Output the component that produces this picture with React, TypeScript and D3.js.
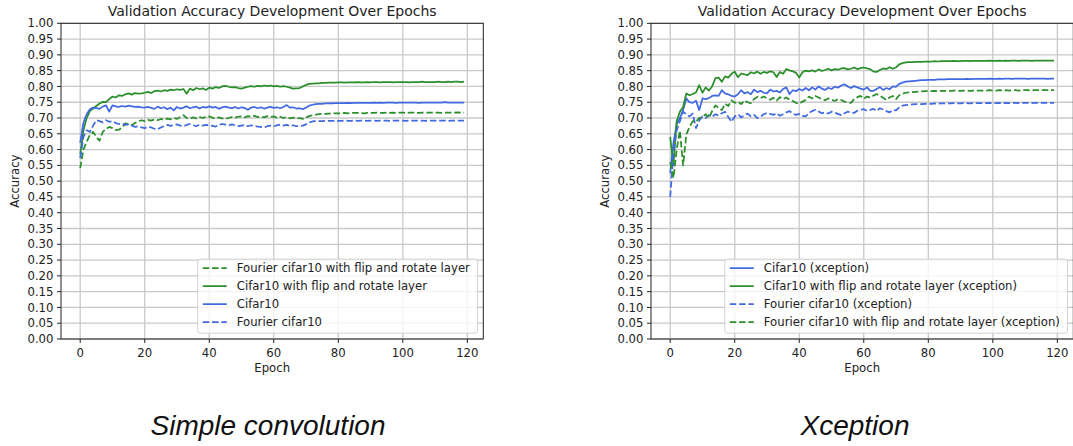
import React, { useEffect, useRef } from "react";
import * as d3 from "d3";

// ---------- data ----------
const yTicks = [0, 0.05, 0.1, 0.15, 0.2, 0.25, 0.3, 0.35, 0.4, 0.45, 0.5, 0.55, 0.6, 0.65, 0.7, 0.75, 0.8, 0.85, 0.9, 0.95, 1.0];
const xTicks = [0, 20, 40, 60, 80, 100, 120];

const simpleCifar10 = [
  0.621, 0.685, 0.712, 0.728, 0.733, 0.731, 0.729, 0.736, 0.740, 0.720,
  0.740, 0.737, 0.735, 0.738, 0.736, 0.739, 0.737, 0.735, 0.736, 0.734,
  0.733, 0.735, 0.732, 0.729, 0.736, 0.731, 0.734, 0.728, 0.733, 0.724,
  0.735, 0.730, 0.733, 0.737, 0.731, 0.734, 0.736, 0.730, 0.735, 0.733,
  0.737, 0.733, 0.735, 0.729, 0.734, 0.736, 0.733, 0.731, 0.735, 0.730,
  0.734, 0.732, 0.726, 0.733, 0.735, 0.731, 0.734, 0.730, 0.733, 0.735,
  0.732, 0.734, 0.731, 0.735, 0.741, 0.733, 0.734, 0.730, 0.731, 0.728,
  0.733, 0.739, 0.742, 0.744, 0.745, 0.745, 0.746, 0.746, 0.746, 0.747,
  0.747, 0.747, 0.747, 0.748, 0.747, 0.748, 0.748, 0.748, 0.748, 0.748,
  0.748, 0.749, 0.748, 0.749, 0.748, 0.749, 0.749, 0.749, 0.748, 0.749,
  0.749, 0.749, 0.749, 0.749, 0.749, 0.748, 0.749, 0.749, 0.749, 0.749,
  0.749, 0.749, 0.749, 0.750, 0.749, 0.749, 0.749, 0.749, 0.749, 0.749,
];

const simpleCifar10Flip = [
  0.585, 0.660, 0.700, 0.722, 0.730, 0.738, 0.746, 0.751, 0.750, 0.760,
  0.768, 0.765, 0.772, 0.770, 0.775, 0.778, 0.774, 0.779, 0.777, 0.778,
  0.780, 0.783, 0.779, 0.785, 0.787, 0.784, 0.788, 0.786, 0.790, 0.788,
  0.791, 0.789, 0.792, 0.777, 0.793, 0.788, 0.795, 0.791, 0.794, 0.789,
  0.796, 0.793, 0.798, 0.795, 0.800, 0.802, 0.799, 0.797, 0.798, 0.795,
  0.793, 0.796, 0.799, 0.801, 0.799, 0.802, 0.800, 0.803, 0.801, 0.803,
  0.800, 0.802, 0.799, 0.801, 0.799, 0.796, 0.793, 0.794, 0.795, 0.800,
  0.805, 0.808, 0.809, 0.810, 0.810, 0.811, 0.811, 0.812, 0.812, 0.812,
  0.813, 0.813, 0.812, 0.813, 0.813, 0.813, 0.814, 0.813, 0.813, 0.814,
  0.813, 0.814, 0.814, 0.813, 0.814, 0.814, 0.814, 0.813, 0.814, 0.814,
  0.814, 0.814, 0.813, 0.814, 0.814, 0.814, 0.815, 0.814, 0.814, 0.814,
  0.814, 0.815, 0.814, 0.814, 0.815, 0.814, 0.815, 0.815, 0.814, 0.815,
];

const simpleFourierFlip = [
  0.541, 0.600, 0.625, 0.646, 0.656, 0.640, 0.628, 0.656, 0.665, 0.672,
  0.668, 0.662, 0.663, 0.670, 0.683, 0.680, 0.678, 0.684, 0.690, 0.693,
  0.690, 0.694, 0.692, 0.695, 0.693, 0.697, 0.694, 0.698, 0.696, 0.700,
  0.697, 0.703, 0.709, 0.700, 0.698, 0.702, 0.699, 0.703, 0.700, 0.704,
  0.705, 0.701, 0.698, 0.702, 0.699, 0.697, 0.700, 0.703, 0.701, 0.704,
  0.705, 0.702, 0.706, 0.704, 0.707, 0.703, 0.705, 0.702, 0.706, 0.703,
  0.705, 0.701, 0.704, 0.700, 0.703, 0.699, 0.701, 0.698, 0.700, 0.697,
  0.702, 0.706, 0.709, 0.711, 0.712, 0.713, 0.713, 0.714, 0.714, 0.715,
  0.715, 0.715, 0.716, 0.715, 0.716, 0.716, 0.716, 0.716, 0.715, 0.716,
  0.716, 0.716, 0.717, 0.716, 0.716, 0.717, 0.716, 0.717, 0.716, 0.717,
  0.717, 0.716, 0.717, 0.717, 0.717, 0.716, 0.717, 0.717, 0.717, 0.717,
  0.717, 0.717, 0.716, 0.717, 0.717, 0.717, 0.717, 0.718, 0.717, 0.717,
];

const simpleFourier = [
  0.573, 0.640, 0.661, 0.656, 0.676, 0.693, 0.690, 0.686, 0.693, 0.688,
  0.690, 0.684, 0.681, 0.683, 0.678, 0.680, 0.676, 0.672, 0.674, 0.670,
  0.668, 0.672, 0.670, 0.666, 0.664, 0.670, 0.674, 0.678, 0.675, 0.677,
  0.680, 0.676, 0.674, 0.678, 0.681, 0.677, 0.674, 0.679, 0.676, 0.678,
  0.677, 0.675, 0.673, 0.678, 0.681, 0.679, 0.676, 0.680, 0.677, 0.674,
  0.676, 0.678, 0.674, 0.677, 0.675, 0.673, 0.672, 0.670, 0.674, 0.676,
  0.674, 0.677, 0.679, 0.676, 0.678, 0.675, 0.677, 0.674, 0.675, 0.676,
  0.680, 0.686, 0.689, 0.690, 0.690, 0.690, 0.691, 0.691, 0.691, 0.691,
  0.691, 0.691, 0.692, 0.691, 0.691, 0.692, 0.691, 0.692, 0.692, 0.691,
  0.692, 0.692, 0.691, 0.692, 0.692, 0.692, 0.691, 0.692, 0.692, 0.692,
  0.692, 0.691, 0.692, 0.692, 0.692, 0.692, 0.692, 0.691, 0.692, 0.692,
  0.692, 0.692, 0.692, 0.692, 0.691, 0.692, 0.692, 0.692, 0.692, 0.692,
];

const xceptionCifar10 = [
  0.525, 0.620, 0.680, 0.700, 0.725, 0.762, 0.750, 0.748, 0.755, 0.725,
  0.762, 0.760, 0.763, 0.770, 0.772, 0.770, 0.788, 0.778, 0.775, 0.770,
  0.768, 0.775, 0.788, 0.778, 0.782, 0.775, 0.790, 0.782, 0.786, 0.780,
  0.778, 0.790, 0.784, 0.786, 0.781, 0.792, 0.797, 0.776, 0.788, 0.785,
  0.792, 0.787, 0.795, 0.788, 0.797, 0.790, 0.800, 0.793, 0.789, 0.796,
  0.792, 0.799, 0.796, 0.803, 0.807, 0.800, 0.795, 0.801, 0.797, 0.793,
  0.790, 0.797, 0.786, 0.786, 0.792, 0.798, 0.789, 0.795, 0.791, 0.800,
  0.799, 0.808, 0.812, 0.815, 0.816, 0.817, 0.818, 0.819, 0.820, 0.820,
  0.821, 0.821, 0.821, 0.822, 0.822, 0.822, 0.823, 0.823, 0.823, 0.823,
  0.823, 0.823, 0.824, 0.823, 0.824, 0.824, 0.824, 0.824, 0.824, 0.825,
  0.824, 0.824, 0.825, 0.824, 0.825, 0.825, 0.824, 0.825, 0.825, 0.825,
  0.825, 0.824, 0.825, 0.825, 0.825, 0.825, 0.825, 0.824, 0.825, 0.825,
];

const xceptionCifar10Flip = [
  0.640, 0.550, 0.690, 0.720, 0.735, 0.778, 0.772, 0.776, 0.781, 0.804,
  0.780, 0.797, 0.787, 0.800, 0.826, 0.828, 0.815, 0.832, 0.828, 0.840,
  0.847, 0.829, 0.841, 0.838, 0.836, 0.845, 0.841, 0.847, 0.840, 0.846,
  0.843, 0.848, 0.845, 0.830, 0.846, 0.840, 0.855, 0.851, 0.848, 0.843,
  0.828, 0.845, 0.850, 0.848, 0.851, 0.847, 0.854, 0.849, 0.852, 0.856,
  0.851, 0.855, 0.853, 0.857, 0.858, 0.854, 0.856, 0.860, 0.855, 0.858,
  0.860, 0.857, 0.855, 0.847, 0.846, 0.852, 0.857, 0.855, 0.861, 0.856,
  0.860, 0.870, 0.874, 0.876, 0.877, 0.877, 0.878, 0.878, 0.878, 0.879,
  0.879, 0.879, 0.880, 0.879, 0.880, 0.880, 0.880, 0.880, 0.881, 0.880,
  0.880, 0.881, 0.881, 0.880, 0.881, 0.881, 0.881, 0.881, 0.881, 0.882,
  0.881, 0.881, 0.882, 0.881, 0.882, 0.881, 0.882, 0.882, 0.881, 0.882,
  0.882, 0.882, 0.881, 0.882, 0.882, 0.882, 0.882, 0.882, 0.882, 0.882,
];

const xceptionFourier = [
  0.450, 0.590, 0.660, 0.690, 0.720, 0.712, 0.705, 0.714, 0.668, 0.692,
  0.705, 0.700, 0.709, 0.704, 0.712, 0.708, 0.715, 0.720, 0.703, 0.688,
  0.705, 0.712, 0.702, 0.708, 0.714, 0.705, 0.710, 0.700, 0.704, 0.712,
  0.716, 0.713, 0.710, 0.715, 0.707, 0.712, 0.718, 0.722, 0.714, 0.710,
  0.713, 0.707, 0.705, 0.716, 0.722, 0.726, 0.721, 0.715, 0.718, 0.714,
  0.720, 0.717, 0.713, 0.709, 0.715, 0.720, 0.718, 0.716, 0.723, 0.726,
  0.728, 0.723, 0.726, 0.729, 0.722, 0.731, 0.727, 0.722, 0.718, 0.725,
  0.724, 0.734, 0.739, 0.741, 0.742, 0.743, 0.744, 0.744, 0.744, 0.745,
  0.745, 0.745, 0.746, 0.745, 0.746, 0.746, 0.746, 0.746, 0.747, 0.746,
  0.746, 0.747, 0.747, 0.746, 0.747, 0.747, 0.747, 0.747, 0.747, 0.748,
  0.747, 0.747, 0.748, 0.747, 0.748, 0.747, 0.748, 0.748, 0.747, 0.748,
  0.748, 0.748, 0.747, 0.748, 0.748, 0.748, 0.748, 0.748, 0.748, 0.748,
];

const xceptionFourierFlip = [
  0.560, 0.510, 0.600, 0.660, 0.550, 0.648, 0.672, 0.690, 0.688, 0.700,
  0.703, 0.712, 0.700, 0.722, 0.740, 0.732, 0.725, 0.745, 0.738, 0.756,
  0.748, 0.752, 0.744, 0.756, 0.750, 0.747, 0.760, 0.767, 0.763, 0.768,
  0.762, 0.758, 0.764, 0.755, 0.766, 0.760, 0.765, 0.758, 0.754, 0.748,
  0.745, 0.752, 0.757, 0.768, 0.762, 0.770, 0.765, 0.760, 0.756, 0.762,
  0.758, 0.754, 0.760, 0.757, 0.752, 0.750, 0.748, 0.759, 0.766, 0.770,
  0.761, 0.768, 0.765, 0.771, 0.776, 0.770, 0.764, 0.757, 0.765, 0.770,
  0.760, 0.772, 0.777, 0.780, 0.781, 0.782, 0.783, 0.784, 0.784, 0.785,
  0.785, 0.785, 0.786, 0.785, 0.786, 0.786, 0.786, 0.786, 0.787, 0.786,
  0.786, 0.787, 0.787, 0.786, 0.787, 0.787, 0.787, 0.787, 0.787, 0.788,
  0.787, 0.787, 0.788, 0.787, 0.788, 0.787, 0.788, 0.788, 0.787, 0.788,
  0.788, 0.788, 0.787, 0.788, 0.788, 0.788, 0.788, 0.788, 0.788, 0.788,
];

const panelTitles = ["Validation Accuracy Development Over Epochs", "Validation Accuracy Development Over Epochs"];
const captions = ["Simple convolution", "Xception"];

// ---------- styles ----------
const GREEN = "#2a8f2a";
const BLUE = "#4169e1";
const FONT = "'DejaVu Sans', sans-serif";
const FS = 11.7;

type Series = { name: string; values: number[]; color: string; dashed: boolean };

const panels: { left: number; right: number; title: string; caption: string; captionX: number; series: Series[] }[] = [
  {
    left: 61,
    right: 483.3,
    title: panelTitles[0],
    caption: captions[0],
    captionX: 268,
    series: [
      { name: "Fourier cifar10 with flip and rotate layer", values: simpleFourierFlip, color: GREEN, dashed: true },
      { name: "Cifar10 with flip and rotate layer", values: simpleCifar10Flip, color: GREEN, dashed: false },
      { name: "Cifar10", values: simpleCifar10, color: BLUE, dashed: false },
      { name: "Fourier cifar10", values: simpleFourier, color: BLUE, dashed: true },
    ],
  },
  {
    left: 651,
    right: 1073.3,
    title: panelTitles[1],
    caption: captions[1],
    captionX: 855,
    series: [
      { name: "Cifar10 (xception)", values: xceptionCifar10, color: BLUE, dashed: false },
      { name: "Cifar10 with flip and rotate layer (xception)", values: xceptionCifar10Flip, color: GREEN, dashed: false },
      { name: "Fourier cifar10 (xception)", values: xceptionFourier, color: BLUE, dashed: true },
      { name: "Fourier cifar10 with flip and rotate layer (xception)", values: xceptionFourierFlip, color: GREEN, dashed: true },
    ],
  },
];

const TOP = 23.3;
const BOTTOM = 339;

export default function App() {
  const ref = useRef<SVGSVGElement | null>(null);

  useEffect(() => {
    const svg = d3.select(ref.current);
    svg.selectAll("*").remove();
    svg.append("rect").attr("width", 1073).attr("height", 446).attr("fill", "#ffffff");

    panels.forEach((p) => {
      const g = svg.append("g");
      const n = p.series[0].values.length;
      const x = d3.scaleLinear().domain([-0.05 * (n - 1), (n - 1) * 1.05]).range([p.left, p.right]);
      const y = d3.scaleLinear().domain([0, 1]).range([BOTTOM, TOP]);

      // grid
      g.append("g")
        .selectAll("line")
        .data(yTicks)
        .join("line")
        .attr("x1", p.left)
        .attr("x2", p.right)
        .attr("y1", (d) => y(d))
        .attr("y2", (d) => y(d))
        .attr("stroke", "#c9c9c9")
        .attr("stroke-width", 1.3);
      g.append("g")
        .selectAll("line")
        .data(xTicks)
        .join("line")
        .attr("x1", (d) => x(d))
        .attr("x2", (d) => x(d))
        .attr("y1", TOP)
        .attr("y2", BOTTOM)
        .attr("stroke", "#c9c9c9")
        .attr("stroke-width", 1.3);

      // lines
      const line = d3
        .line<number>()
        .x((_, i) => x(i))
        .y((d) => y(d));
      p.series.forEach((s) => {
        g.append("path")
          .attr("d", line(s.values) || "")
          .attr("fill", "none")
          .attr("stroke", s.color)
          .attr("stroke-width", 1.75)
          .attr("stroke-linejoin", "round")
          .attr("stroke-dasharray", s.dashed ? "6.5,2.8" : null);
      });

      // spines
      g.append("rect")
        .attr("x", p.left)
        .attr("y", TOP)
        .attr("width", p.right - p.left)
        .attr("height", BOTTOM - TOP)
        .attr("fill", "none")
        .attr("stroke", "#222")
        .attr("stroke-width", 1);

      // y ticks
      const yt = g.append("g");
      yTicks.forEach((t) => {
        yt.append("line").attr("x1", p.left - 4).attr("x2", p.left).attr("y1", y(t)).attr("y2", y(t)).attr("stroke", "#222").attr("stroke-width", 1);
        yt.append("text")
          .attr("x", p.left - 7.5)
          .attr("y", y(t))
          .attr("dy", "0.35em")
          .attr("text-anchor", "end")
          .attr("font-family", FONT)
          .attr("font-size", FS)
          .attr("fill", "#222")
          .text(t.toFixed(2));
      });
      // x ticks
      xTicks.forEach((t) => {
        g.append("line").attr("x1", x(t)).attr("x2", x(t)).attr("y1", BOTTOM).attr("y2", BOTTOM + 4).attr("stroke", "#222").attr("stroke-width", 1);
        g.append("text")
          .attr("x", x(t))
          .attr("y", BOTTOM + 18)
          .attr("text-anchor", "middle")
          .attr("font-family", FONT)
          .attr("font-size", FS)
          .attr("fill", "#222")
          .text(String(t));
      });

      // labels
      const cx = (p.left + p.right) / 2;
      g.append("text")
        .attr("x", cx)
        .attr("y", TOP - 7)
        .attr("text-anchor", "middle")
        .attr("font-family", FONT)
        .attr("font-size", 14)
        .attr("fill", "#222")
        .text(p.title);
      g.append("text")
        .attr("x", cx)
        .attr("y", BOTTOM + 33)
        .attr("text-anchor", "middle")
        .attr("font-family", FONT)
        .attr("font-size", FS)
        .attr("fill", "#222")
        .text("Epoch");
      g.append("text")
        .attr("transform", `translate(${p.left - 42},${(TOP + BOTTOM) / 2}) rotate(-90)`)
        .attr("text-anchor", "middle")
        .attr("font-family", FONT)
        .attr("font-size", FS)
        .attr("fill", "#222")
        .text("Accuracy");

      // legend
      const lg = g.append("g");
      const box = lg.append("rect");
      const rowH = 18;
      const texts = p.series.map((s) =>
        lg
          .append("text")
          .attr("font-family", FONT)
          .attr("font-size", FS)
          .attr("fill", "#222")
          .attr("dy", "0.35em")
          .text(s.name)
      );
      const maxW = d3.max(texts, (t) => (t.node() as SVGTextElement).getComputedTextLength()) || 0;
      const boxW = 5 + 24 + 10 + maxW + 7.5;
      const boxH = 74;
      const bx = p.right - 5.85 - boxW;
      const by = BOTTOM - 5.85 - boxH;
      box
        .attr("x", bx)
        .attr("y", by)
        .attr("width", boxW)
        .attr("height", boxH)
        .attr("rx", 2.5)
        .attr("fill", "rgba(255,255,255,0.8)")
        .attr("stroke", "#d0d0d0")
        .attr("stroke-width", 1);
      box.lower();
      p.series.forEach((s, i) => {
        const cy = by + 9 + i * rowH;
        lg.append("line")
          .attr("x1", bx + 5)
          .attr("x2", bx + 29)
          .attr("y1", cy)
          .attr("y2", cy)
          .attr("stroke", s.color)
          .attr("stroke-width", 1.75)
          .attr("stroke-dasharray", s.dashed ? "6.5,2.8" : null);
        texts[i].attr("x", bx + 39).attr("y", cy);
      });

      // caption
      svg.append("text")
        .attr("x", p.captionX)
        .attr("y", 435)
        .attr("text-anchor", "middle")
        .attr("font-family", "'Liberation Sans', Arial, sans-serif")
        .attr("font-style", "italic")
        .attr("font-size", 28)
        .attr("fill", "#111")
        .text(p.caption);
    });
  }, []);

  return (
    <svg
      ref={ref}
      width={1073}
      height={446}
      style={{ position: "absolute", left: 0, top: 0, display: "block" }}
    />
  );
}
